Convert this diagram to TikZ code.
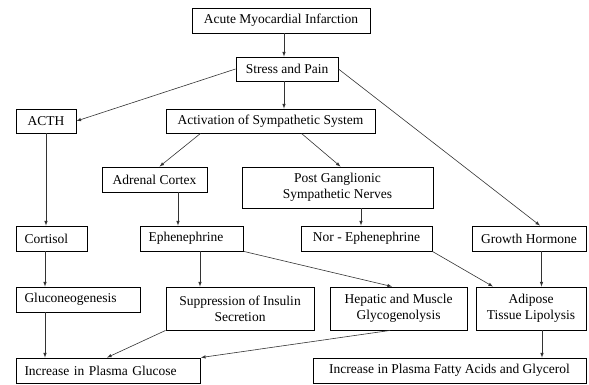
\documentclass[tikz,border=0pt]{standalone}
\usepackage{fontspec}
\setmainfont{Liberation Serif}
\usepackage{tikz}

\begin{document}
\begin{tikzpicture}[x=1pt, y=-1pt,
    box/.style={draw, line width=0.9pt, inner xsep=8pt, inner ysep=2pt, align=center,
        font=\fontsize{13.5}{16}\selectfont},
    lbox/.style={box, align=left},
    >=latex]
    \useasboundingbox (0,0) rectangle (589,385);
    \node[box, minimum width=178pt, minimum height=25pt] (ami) at (281,20.5) {Acute Myocardial Infarction};
    \node[box, minimum width=102pt, minimum height=24pt] (stress) at (287,69) {Stress and Pain};
    \node[box, minimum width=60pt, minimum height=24pt] (acth) at (46,121) {ACTH};
    \node[box, minimum width=209pt, minimum height=24pt] (act) at (270.5,121) {Activation of Sympathetic System};
    \node[box, minimum width=105pt, minimum height=25pt] (adrenal) at (154.5,179.5) {Adrenal Cortex};
    \node[box, minimum width=191pt, minimum height=41pt] (post) at (337.5,187.5) {Post Ganglionic\\Sympathetic Nerves};
    \node[lbox, text width=55pt, minimum height=25pt] (cortisol) at (52,238.5) {Cortisol};
    \node[lbox, text width=87pt, minimum height=25pt] (eph) at (192,238.5) {Ephenephrine};
    \node[box, minimum width=131pt, minimum height=25pt] (nor) at (366.5,238.5) {Nor - Ephenephrine};
    \node[box, minimum width=114pt, minimum height=25pt] (growth) at (529,238.5) {Growth Hormone};
    \node[lbox, text width=108pt, minimum height=25pt] (gluco) at (78.5,299.5) {Gluconeogenesis};
    \node[box, minimum width=148pt, minimum height=43pt] (supp) at (240,308.5) {Suppression of Insulin\\Secretion};
    \node[box, minimum width=137pt, minimum height=43pt] (hepatic) at (398.5,308.5) {Hepatic and Muscle\\Glycogenolysis};
    \node[box, minimum width=110pt, minimum height=43pt] (adipose) at (531,308.5) {Adipose\\Tissue Lipolysis};
    \node[lbox, text width=168pt, minimum height=25pt] (glucose) at (108.5,370.5) {Increase in Plasma Glucose};
    \node[box, minimum width=273pt, minimum height=25pt] (fatty) at (449.5,370.5) {Increase in Plasma Fatty Acids and Glycerol};

    \begin{scope}[black!80, line width=0.6pt]
    \draw[->] ([xshift=3pt]ami.south) -- ([xshift=3pt]ami.south |- stress.north);
    \draw[->] ([xshift=-3pt]stress.south) -- ([xshift=-3pt]stress.south |- act.north);
    \draw[->] (stress.west) -- (acth.east);
    \draw[->] (stress.east) -- ([xshift=11pt]growth.north);
    \draw[->] ([xshift=-70pt]act.south) -- ([xshift=5pt]adrenal.north);
    \draw[->] ([xshift=31pt]act.south) -- ([xshift=3pt]post.north);
    \draw[->] (acth.south) -- (acth.south |- cortisol.north);
    \draw[->] ([xshift=23.5pt]adrenal.south) -- ([xshift=23.5pt]adrenal.south |- eph.north);
    \draw[->] ([xshift=23.5pt]post.south) -- ([xshift=23.5pt]post.south |- nor.north);
    \draw[->] ([xshift=12.5pt]growth.south) -- ([xshift=12.5pt]growth.south |- adipose.north);
    \draw[->] ([xshift=-7pt]cortisol.south) -- ([xshift=-7pt]cortisol.south |- gluco.north);
    \draw[->] ([xshift=8pt]eph.south) -- ([xshift=8pt]eph.south |- supp.north);
    \draw[->] (eph.south east) -- ([xshift=-6.5pt]hepatic.north);
    \draw[->] (nor.south east) -- ([xshift=-38pt]adipose.north);
    \draw[->] ([xshift=-33.5pt]gluco.south) -- ([xshift=-33.5pt]gluco.south |- glucose.north);
    \draw[->] (supp.south west) -- ([xshift=-1.5pt]glucose.north);
    \draw[->] ([xshift=-8.5pt]hepatic.south) -- (glucose.north east);
    \draw[->] ([xshift=11pt]adipose.south) -- ([xshift=11pt]adipose.south |- fatty.north);
    \end{scope}
\end{tikzpicture}
\end{document}
